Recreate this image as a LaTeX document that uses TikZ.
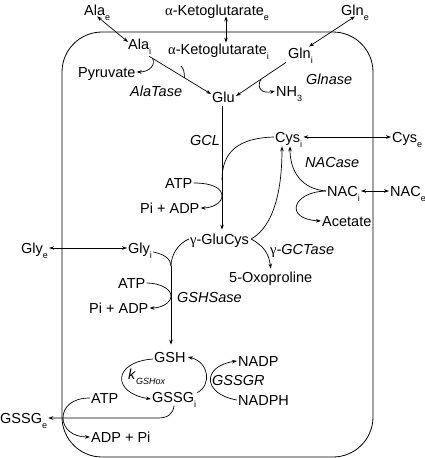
\documentclass[tikz,border=0pt]{standalone}
\usepackage{fontspec}
\setmainfont{Liberation Sans}
\newfontfamily\grk{Liberation Serif}
\usetikzlibrary{arrows.meta,calc}
\newcommand\sbs[1]{\raisebox{-5pt}{\fontsize{9}{9}\selectfont #1}}
\begin{document}
\begin{tikzpicture}[x=1pt,y=-1pt,
  lbl/.style={anchor=west,inner sep=1pt,text height=10.4pt,text depth=0pt,font=\fontsize{14.5}{16}\selectfont},
  enz/.style={lbl,font=\fontsize{14.5}{16}\selectfont\itshape},
  conn/.style={line width=0.7pt},
  arr/.style={conn,-{Stealth[length=5pt,width=3.6pt]}},
  darr/.style={conn,{Stealth[length=5pt,width=3.6pt]}-{Stealth[length=5pt,width=3.6pt]}}]
\useasboundingbox (0,0) rectangle (425,458);
\draw[line width=0.8pt, rounded corners=40pt] (62,32) rectangle (373,457);

% nodes
\node[lbl] (Alae) at (83,10) {Ala\sbs{e}};
\node[lbl] (AKGe) at (164,10) {{\grk α}-Ketoglutarate\sbs{e}};
\node[lbl] (Glne) at (340,10) {Gln\sbs{e}};
\node[lbl] (Alai) at (127,44) {Ala\sbs{i}};
\node[lbl] (AKGi) at (167,49) {{\grk α}-Ketoglutarate\sbs{i}};
\node[lbl] (Glni) at (287,53) {Gln\sbs{i}};
\node[lbl] (Pyr) at (77,72) {Pyruvate};
\node[enz] (AlaTase) at (129,91) {AlaTase};
\node[enz] (Glnase) at (305,79) {Glnase};
\node[lbl] (NH3) at (275,91) {NH\sbs{3}};
\node[lbl] (Glu) at (211,97) {Glu};
\node[enz] (GCL) at (189,140) {GCL};
\node[lbl] (Cysi) at (274,137) {Cys\sbs{i}};
\node[lbl] (Cyse) at (391,137) {Cys\sbs{e}};
\node[lbl] (ATP1) at (164,183) {ATP};
\node[lbl] (PiADP1) at (139,208) {Pi + ADP};
\node[enz] (NACase) at (304,162) {NACase};
\node[lbl] (NACi) at (326,191) {NAC\sbs{i}};
\node[lbl] (NACe) at (389,191) {NAC\sbs{e}};
\node[lbl] (Acetate) at (321,221) {Acetate};
\node[lbl] (GluCys) at (189,239) {{\grk γ}-GluCys};
\node[lbl] (GCTase) at (269,249) {{\grk γ}\textit{-GCTase}};
\node[lbl] (Oxo) at (228,277) {5-Oxoproline};
\node[lbl] (Glye) at (20,248) {Gly\sbs{e}};
\node[lbl] (Glyi) at (127,248) {Gly\sbs{i}};
\node[lbl] (ATP2) at (117,283) {ATP};
\node[lbl] (PiADP2) at (88,308) {Pi + ADP};
\node[enz] (GSHSase) at (176,297) {GSHSase};
\node[lbl] (GSH) at (153,357) {GSH};
\node[lbl] (GSSGi) at (151,397) {GSSG\sbs{i}};
\node[lbl] (kGSH) at (127,374) {\textit{k}\sbs{\textit{GSHox}}};
\node[lbl] (NADP) at (237,361) {NADP};
\node[enz] (GSSGR) at (211,380) {GSSGR};
\node[lbl] (NADPH) at (237,400) {NADPH};
\node[lbl] (GSSGe) at (-1,418) {GSSG\sbs{e}};
\node[lbl] (ATP3) at (90,398) {ATP};
\node[lbl] (ADPPi) at (90,437) {ADP + Pi};

% named points
\coordinate (kx) at (226,0);
\coordinate (vx) at (222,0);
\coordinate (jc) at (222,180);
\coordinate (ja) at (222,196);
\coordinate (akgin) at (181,66);
\coordinate (jg) at (171,266);
\coordinate (jb) at (171,296);
\coordinate (jw) at (63,418);
\coordinate (a0) at ($(Alai.south east)+(-3,6)$);
\coordinate (ct1) at ($(Cysi.south west)+(8,3)$);
\coordinate (ct2) at ($(Cysi.south west)+(16,3)$);
\coordinate (gx) at ($(GluCys.east)+(1,0)$);

% transports
\draw[darr] (Alae.south) -- ($(Alai.west)+(1,-2)$);
\draw[darr] (kx |- AKGe.south) -- (kx |- AKGi.north);
\draw[darr] (Glne.south) -- ($(Glni.north east)+(-5,0)$);
\draw[darr] (Cysi.east) -- (Cyse.west);
\draw[darr] (NACi.east) -- (NACe.west);
\draw[darr] (Glye.east) -- (Glyi.west);

% AlaTase
\draw[arr] (a0) -- coordinate[pos=0.05] (j1) coordinate[pos=0.57] (j3) ($(Glu.west)+(0,-3)$);
\draw[arr] (j1) .. controls (156,64) and (150,72) .. (Pyr.east);
\draw[conn] (akgin) .. controls (184,70) .. (j3);

% Glnase
\draw[arr] ($(Glni.south west)+(-1,3)$) -- coordinate[pos=0.5] (j2) ($(Glu.east)+(0,-1)$);
\draw[arr] (j2) .. controls (256,88) and (262,94) .. (NH3.west);

% GCL
\draw[arr, shorten <=3pt, shorten >=3pt] (Glu.south -| vx) -- (GluCys.north -| vx);
\draw[conn] (Cysi.west) .. controls (238,138) and (222,152) .. (jc);
\draw[arr] (ATP1.east) .. controls (214,183) and (222,189) .. (ja) .. controls (222,203) and (212,208) .. (PiADP1.east);

% Cys sources
\draw[arr] (gx) .. controls (274,226) and (282,190) .. (ct1);
\draw[arr] (gx) .. controls (264,246) and (269,254) .. ($(Oxo.north)+(0,-2)$);
\draw[arr] (NACi.west) .. controls (302,189) and (290,172) .. (ct2);
\draw[arr] (NACi.west) .. controls (292,192) and (284,219) .. (Acetate.west);

% GSHSase
\draw[conn] ($(Glyi.east)+(0,4)$) .. controls (164,254) and (171,259) .. (jg);
\draw[conn] (GluCys.west) .. controls (179,243) and (171,254) .. (jg);
\draw[arr, shorten >=6pt] (jg) -- (GSH.north -| jg);
\draw[arr] (ATP2.east) .. controls (160,283) and (171,289) .. (jb) .. controls (171,303) and (161,308) .. (PiADP2.east);

% GSH cycle
\draw[arr] ($(GSH.west)+(0,2)$) .. controls (112,362) and (112,393) .. ($(GSSGi.west)+(0,2)$);
\draw[arr] ($(GSSGi.north east)+(0,2)$) .. controls (212,385) and (209,362) .. ($(GSH.east)+(1,0)$);
\draw[arr] (NADPH.west) .. controls (202,394) and (202,366) .. (NADP.west);

% export
\draw[arr] ($(GSSGi.south)+(0,2)$) .. controls (173,414) and (168,418) .. (158,418) -- (GSSGe.east);
\draw[arr] (ATP3.west) .. controls (72,398) and (63,407) .. (jw) .. controls (63,428) and (72,437) .. (ADPPi.west);
\end{tikzpicture}
\end{document}
